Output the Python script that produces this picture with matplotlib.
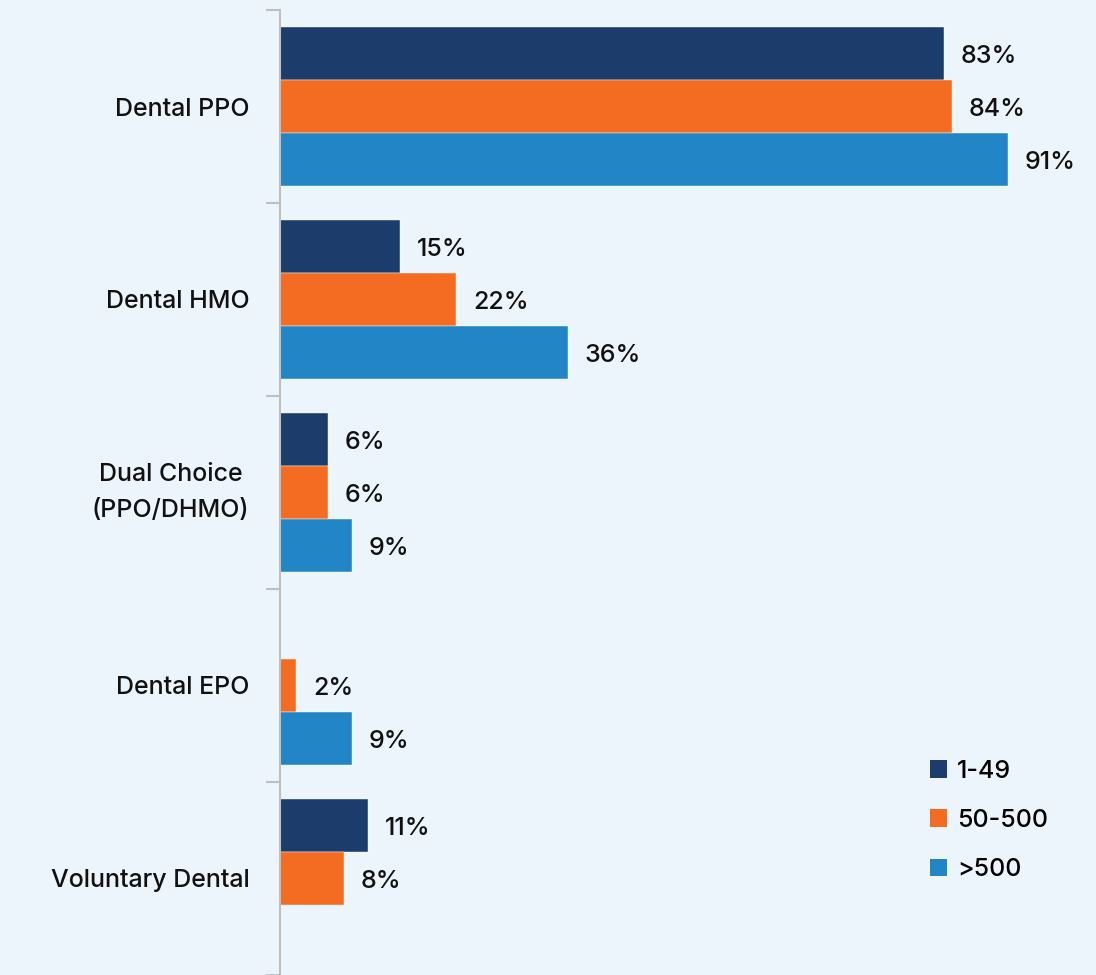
import numpy as np
import matplotlib.pyplot as plt
from matplotlib.patches import Patch

plt.rcParams['font.family'] = ['Inter', 'DejaVu Sans']

categories = ['Dental PPO', 'Dental HMO', 'Dual Choice \n(PPO/DHMO)', 'Dental EPO', 'Voluntary Dental']
series_names = ['1-49', '50-500', '>500']
small = [83, 15, 6, np.nan, 11]
mid = [84, 22, 6, 2, 8]
large = [91, 36, 9, 9, np.nan]
colors = ['#1C3C6C', '#F36C22', '#2286C6']
bg = '#EDF5FC'

fig = plt.figure(figsize=(10.96, 9.75), dpi=100, facecolor=bg)
ax = fig.add_axes([280 / 1096, 0, 816 / 1096, 965 / 975])
ax.set_facecolor(bg)

y = np.arange(len(categories))
h = 0.275
for i, (vals, c) in enumerate(zip([small, mid, large], colors)):
    pos = y + (i - 1) * h
    ax.barh(pos, vals, height=h, color=c, edgecolor='#ffffff', linewidth=0.3)
    for p, v in zip(pos, vals):
        if not np.isnan(v):
            ax.text(v + 2.1, p + 0.015, f'{v:.0f}%', va='center', ha='left', fontsize=18,
                    fontweight='medium', color='#111111')

ax.set_xlim(0, 102)
ax.set_ylim(len(categories) - 0.5, -0.5)
ax.set_xticks([])
ax.set_yticks(y)
ax.set_yticklabels(categories, fontsize=18, fontweight='medium', color='#111111', linespacing=1.75)
ax.tick_params(axis='y', which='major', length=0, pad=22)
ax.set_yticks(np.arange(len(categories) + 1) - 0.5, minor=True)
ax.tick_params(axis='y', which='minor', length=10, color='#BFBFBF', width=1.5)
for s in ['top', 'right', 'bottom']:
    ax.spines[s].set_visible(False)
ax.spines['left'].set_color('#BFBFBF')
ax.spines['left'].set_linewidth(1.5)
# the two-line label sits a little high in the original
ax.get_yticklabels()[2].set_verticalalignment('center')

handles = [Patch(facecolor=c, label=n) for c, n in zip(colors, series_names)]
fig.legend(handles=handles, loc='upper left', bbox_to_anchor=(922 / 1096, 1 - 752 / 975),
           frameon=False, fontsize=18, labelspacing=1.05, handlelength=0.7, handleheight=0.7,
           handletextpad=0.4, borderaxespad=0, borderpad=0.3)
for t in fig.legends[0].get_texts():
    t.set_fontweight('medium')

fig.savefig('out.png', dpi=100, facecolor=bg)
